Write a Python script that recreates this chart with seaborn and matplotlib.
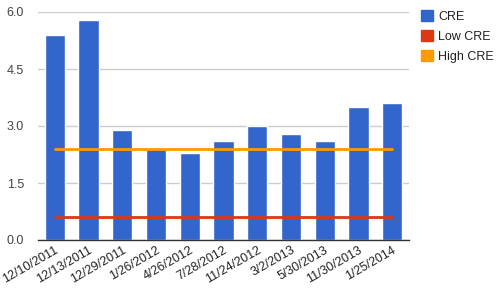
import matplotlib
matplotlib.use("Agg")
import matplotlib.pyplot as plt
import seaborn as sns
import numpy as np
import pandas as pd
from matplotlib.patches import Patch

dates = ["12/10/2011", "12/13/2011", "12/29/2011", "1/26/2012", "4/26/2012",
         "7/28/2012", "11/24/2012", "3/2/2013", "5/30/2013", "11/30/2013", "1/25/2014"]
cre = [5.4, 5.8, 2.9, 2.4, 2.3, 2.6, 3.0, 2.8, 2.6, 3.5, 3.6]
low_cre = [0.6] * 11
high_cre = [2.4] * 11
yticks = [0.0, 1.5, 3.0, 4.5, 6.0]

sns.set_style("white")
plt.rcParams['font.family'] = ['Liberation Sans', 'DejaVu Sans']

df = pd.DataFrame({"date": dates, "CRE": cre, "low": low_cre, "high": high_cre})

fig = plt.figure(figsize=(4.96, 2.93), dpi=100)
ax = fig.add_axes([38/496, 1 - 240/293, (409 - 38)/496, (240 - 12)/293])

sns.barplot(data=df, x="date", y="CRE", color="#3366cc", saturation=1, width=0.6, ax=ax)
pos = np.arange(len(dates))
ax.plot(pos, df["low"], color="#dc3912", lw=2, zorder=3)
ax.plot(pos, df["high"], color="#ff9900", lw=2, zorder=3)

ax.set_xlim(-0.5, len(dates) - 0.5)
ax.set_ylim(0, 6.0)
ax.set_yticks(yticks)
ax.set_yticklabels([f"{v:.1f}" for v in yticks])
ax.yaxis.grid(True, color="#cccccc", lw=1)
ax.set_axisbelow(True)
for s in ["top", "right", "left"]:
    ax.spines[s].set_visible(False)
ax.spines["bottom"].set_color("#333333")
ax.spines["bottom"].set_linewidth(1)
ax.set_xlabel("")
ax.set_ylabel("")
ax.tick_params(axis="y", length=0, pad=10, labelsize=9, labelcolor="#444444")
ax.tick_params(axis="x", length=0, pad=3, labelsize=9, labelcolor="#222222")
plt.setp(ax.get_xticklabels(), rotation=30, ha="right", rotation_mode="anchor")

handles = [Patch(color="#3366cc", label="CRE"),
           Patch(color="#dc3912", label="Low CRE"),
           Patch(color="#ff9900", label="High CRE")]
fig.legend(handles=handles, loc="upper left", bbox_to_anchor=(421/496, 1 - 10/293),
           frameon=False, fontsize=9, handlelength=0.96, handleheight=0.96,
           handletextpad=0.4, labelspacing=0.6, borderpad=0, borderaxespad=0,
           labelcolor="#222222")

fig.savefig("out.png", dpi=100)
